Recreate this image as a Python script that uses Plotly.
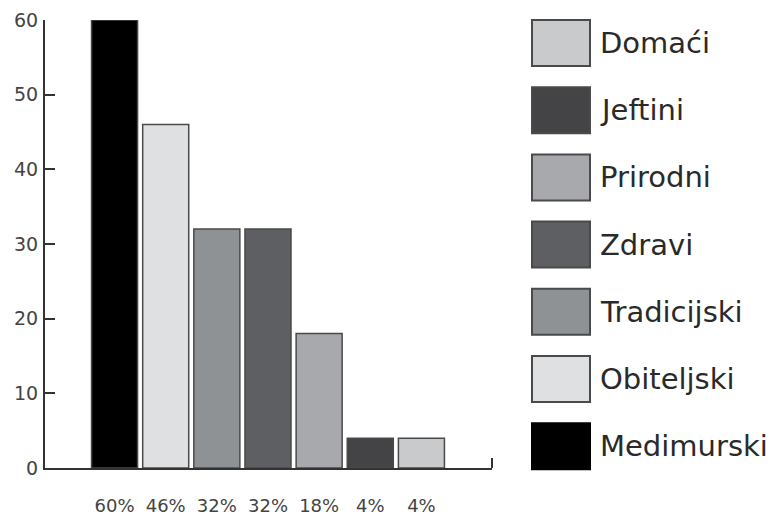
import plotly.graph_objects as go

categories = ["Medimurski", "Obiteljski", "Tradicijski", "Zdravi", "Prirodni", "Jeftini", "Domaći"]
values = [60, 46, 32, 32, 18, 4, 4]
pct_labels = ["60%", "46%", "32%", "32%", "18%", "4%", "4%"]
colors = ["#000000", "#dfe0e2", "#8f9295", "#5e5f63", "#a7a9ac", "#444446", "#c9cacc"]
y_ticks = [0, 10, 20, 30, 40, 50, 60]

W, H = 778, 516
L, R, T, B = 45, 286, 20, 48
pw, ph = W - L - R, H - T - B

def px_x(p):
    return (p - L) / pw

def px_y(p):
    return (H - B - p) / ph

FONT = "DejaVu Sans"
xs = list(range(len(categories)))

fig = go.Figure()
fig.add_trace(go.Bar(
    x=xs, y=values, marker=dict(color=colors, line=dict(color="#4a4a4a", width=1.5)),
    width=0.9, showlegend=False, hoverinfo="skip"))

fig.update_layout(
    width=W, height=H, margin=dict(l=L, r=R, t=T, b=B, autoexpand=False),
    paper_bgcolor="white", plot_bgcolor="white",
    xaxis=dict(range=[-1.36, 7.38], tickvals=xs, ticktext=pct_labels, showgrid=False,
               zeroline=False, showline=True, linecolor="#333333", linewidth=2,
               ticks="", ticklabelstandoff=20, automargin=False,
               tickfont=dict(family=FONT, size=18, color="#444444")),
    yaxis=dict(range=[0, 60], tickvals=y_ticks, showgrid=False, zeroline=False,
               showline=True, linecolor="#333333", linewidth=2,
               ticks="inside", ticklen=10, tickwidth=2, tickcolor="#333333",
               ticklabelstandoff=1, automargin=False,
               tickfont=dict(family=FONT, size=19, color="#444444")),
)

# small end mark on the right of the x axis
fig.add_shape(type="line", xref="x domain", yref="paper", x0=1, x1=1,
              y0=0, y1=px_y(458), line=dict(color="#333333", width=2))

# custom legend with large swatches
legend_items = list(reversed(categories))
legend_colors = list(reversed(colors))
top0, pitch, bw, bh = 20, 67.2, 58, 46
for i, (name, col) in enumerate(zip(legend_items, legend_colors)):
    t = top0 + i * pitch
    fig.add_shape(type="rect", xref="paper", yref="paper",
                  x0=px_x(532), x1=px_x(532 + bw), y0=px_y(t + bh), y1=px_y(t),
                  fillcolor=col, line=dict(color="#4a4a4a" if col != "#000000" else "#000000", width=2))
    fig.add_annotation(xref="paper", yref="paper", x=px_x(598), y=px_y(t + bh / 2),
                       text=name, showarrow=False, xanchor="left", yanchor="middle",
                       font=dict(family=FONT, size=29, color="#2a2a2a"))

fig.write_html("out.html", config={"displayModeBar": False},
               post_script="document.body.style.margin='0px';")
